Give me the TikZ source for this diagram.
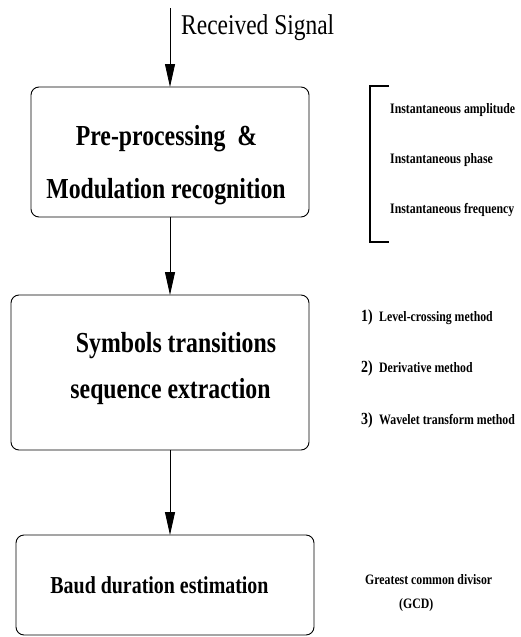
\documentclass[tikz,border=0pt]{standalone}
\usepackage{fontspec}
\setmainfont{Liberation Serif}[FakeStretch=0.82]
\usetikzlibrary{arrows.meta}
\newcommand\fsz[1]{\fontsize{#1}{#1}\selectfont}
\begin{document}
\begin{tikzpicture}[x=1pt,y=-1pt,
  box/.style={draw, line width=0.9pt, rounded corners=8pt, inner sep=0pt, outer sep=0pt},
  flow/.style={line width=0.8pt, -{Triangle[length=23pt,width=10pt]}},
  big/.style={inner sep=0pt, anchor=base, font=\bfseries\fsz{29}},
  side/.style={inner sep=0pt, anchor=base west, font=\bfseries\fsz{14.4}},
  num/.style={inner sep=0pt, anchor=base west, font=\bfseries\fsz{17}},
]
\useasboundingbox (0,0) rectangle (520,637);

% boxes
\node[box, minimum width=278pt, minimum height=130pt] (b1) at (170,152) {};
\node[box, minimum width=298pt, minimum height=155pt] (b2) at (160,372.5) {};
\node[box, minimum width=298pt, minimum height=100pt] (b3) at (165,585) {};

% input
\coordinate (in) at (170,8);
\node[inner sep=0pt, anchor=base west, font=\fsz{28.6}] (rs) at (181,34) {Received Signal};

% connectors
\draw[flow] (in) -- (b1.north);
\draw[flow] (b1.south) -- (b1.south |- b2.north);
\draw[flow] (b1.south |- b2.south) -- (b1.south |- b3.north);

% box texts
\node[big] (t1a) at (166.5,145) {Pre-processing\ \ \&};
\node[big] (t1b) at (166,198) {Modulation recognition};
\node[big] (t2a) at (176,352) {Symbols transitions};
\node[big] (t2b) at (170.5,398) {sequence extraction};
\node[big, font=\bfseries\fsz{24.3}] (t3) at (159.5,593) {Baud duration estimation};

% bracket and features
\draw[line width=2pt] (389,86) -- (370,86) -- (370,242) -- (389,242);
\node[side] (f1) at (390,113) {Instantaneous amplitude};
\node[side] (f2) at (390,163) {Instantaneous phase};
\node[side] (f3) at (390,213) {Instantaneous frequency};

% methods
\node[num] (n1) at (361,321) {1)};
\node[side] (m1) at (379,321) {Level-crossing method};
\node[num] (n2) at (361,372) {2)};
\node[side] (m2) at (379,372) {Derivative method};
\node[num] (n3) at (361,424) {3)};
\node[side] (m3) at (379,424) {Wavelet transform method};

% GCD
\node[side] (g1) at (365,584) {Greatest common divisor};
\node[side] (g2) at (399,608) {(GCD)};
\end{tikzpicture}
\end{document}
